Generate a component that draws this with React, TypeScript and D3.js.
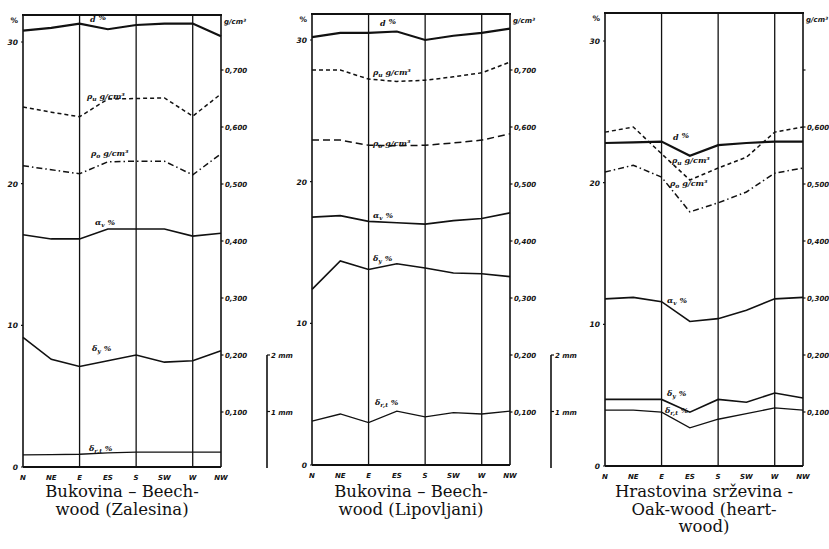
import React from "react";
import * as d3 from "d3";

const categories = ["N", "NE", "E", "ES", "S", "SW", "W", "NW"];
const gridCats = ["E", "S", "W"];
const leftTicks = [0, 10, 20, 30];
const rightTicks = [0.1, 0.2, 0.3, 0.4, 0.5, 0.6, 0.7];
const mmTicks = [1, 2];

// Panel 1: Zalesina
const zalD = [30.8, 31.0, 31.3, 30.9, 31.2, 31.3, 31.3, 30.4];
const zalRhoU = [0.635, 0.626, 0.618, 0.649, 0.65, 0.651, 0.619, 0.658];
const zalRho0 = [0.532, 0.525, 0.518, 0.539, 0.54, 0.54, 0.516, 0.553];
const zalAlpha = [16.4, 16.1, 16.1, 16.8, 16.8, 16.8, 16.3, 16.5];
const zalDy = [9.15, 7.6, 7.1, 7.5, 7.9, 7.4, 7.5, 8.2];
const zalDrt = [0.85, 0.88, 0.9, 1.0, 1.05, 1.05, 1.05, 1.05];

// Panel 2: Lipovljani
const lipD = [30.2, 30.5, 30.5, 30.6, 30.0, 30.3, 30.5, 30.8];
const lipRhoU = [0.7, 0.7, 0.684, 0.68, 0.682, 0.688, 0.695, 0.714];
const lipRho0 = [0.577, 0.577, 0.568, 0.567, 0.568, 0.572, 0.577, 0.588];
const lipAlpha = [17.5, 17.6, 17.2, 17.1, 17.0, 17.25, 17.4, 17.8];
const lipDy = [12.4, 14.4, 13.8, 14.2, 13.9, 13.55, 13.5, 13.3];
const lipDrt = [3.1, 3.6, 3.0, 3.8, 3.4, 3.7, 3.6, 3.8];

// Panel 3: Oak heartwood
const oakD = [22.8, 22.85, 22.9, 21.9, 22.65, 22.8, 22.9, 22.9];
const oakRhoU = [0.591, 0.6, 0.553, 0.507, 0.528, 0.547, 0.591, 0.6];
const oakRho0 = [0.521, 0.533, 0.512, 0.451, 0.467, 0.486, 0.519, 0.528];
const oakAlpha = [11.8, 11.9, 11.6, 10.2, 10.4, 11.0, 11.8, 11.9];
const oakDy = [4.7, 4.7, 4.7, 3.8, 4.7, 4.5, 5.15, 4.8];
const oakDrt = [3.95, 3.95, 3.8, 2.7, 3.3, 3.7, 4.1, 3.95];

const titles1 = ["Bukovina – Beech-", "wood (Zalesina)"];
const titles2 = ["Bukovina – Beech-", "wood (Lipovljani)"];
const titles3 = ["Hrastovina srževina -", "Oak-wood (heart-", "wood)"];

type Lbl = { sym: string; sub: string; unit: string; x: number; y: number };

type PanelCfg = {
  left: number;
  right: number;
  top: number;
  bottom: number;
  y30: number;
  d: number[];
  rhoU: number[];
  rho0: number[];
  alpha: number[];
  dy: number[];
  drt: number[];
  rho0Dash: string;
  labels: Lbl[];
  titles: string[];
  showTop: boolean;
};

const ink = "#111";

function Panel({ cfg }: { cfg: PanelCfg }) {
  const x = d3.scalePoint<string>().domain(categories).range([cfg.left, cfg.right]);
  const yL = d3.scaleLinear().domain([0, 30]).range([cfg.bottom, cfg.y30]);
  const yR = d3.scaleLinear().domain([0, 0.7]).range([469, 70]);
  const lineL = d3
    .line<number>()
    .x((_, i) => x(categories[i]) as number)
    .y((v) => yL(v));
  const lineR = d3
    .line<number>()
    .x((_, i) => x(categories[i]) as number)
    .y((v) => yR(v));
  const cx = (cfg.left + cfg.right) / 2;
  return (
    <g>
      {/* frame */}
      <line x1={cfg.left - 1} x2={cfg.right + 1} y1={cfg.top} y2={cfg.top} stroke={ink} strokeWidth={2.2} />
      <line x1={cfg.left} x2={cfg.left} y1={cfg.top} y2={cfg.bottom} stroke={ink} strokeWidth={1.6} />
      <line x1={cfg.right} x2={cfg.right} y1={cfg.top} y2={cfg.bottom} stroke={ink} strokeWidth={1.6} />
      <line x1={cfg.left} x2={cfg.right} y1={cfg.bottom} y2={cfg.bottom} stroke={ink} strokeWidth={1.8} />
      {gridCats.map((c) => (
        <line key={c} x1={x(c)} x2={x(c)} y1={cfg.top} y2={cfg.bottom} stroke={ink} strokeWidth={1.3} />
      ))}
      {/* left ticks */}
      {leftTicks.map((t) => (
        <g key={t}>
          <line x1={cfg.left - 2} x2={cfg.left} y1={yL(t)} y2={yL(t)} stroke={ink} strokeWidth={1.2} />
          <text x={cfg.left - 5} y={yL(t) + 3} textAnchor="end" fontSize={7.5} fontWeight="bold" fontStyle="italic" fontFamily="DejaVu Sans" fill={ink}>
            {t}
          </text>
        </g>
      ))}
      <text x={cfg.left - 5} y={cfg.top + 8} textAnchor="end" fontSize={7.5} fontWeight="bold" fontFamily="DejaVu Sans" fill={ink}>%</text>
      {/* right ticks */}
      {rightTicks.map((t) => (
        <g key={t}>
          <line x1={cfg.right} x2={cfg.right + 2.5} y1={yR(t)} y2={yR(t)} stroke={ink} strokeWidth={1.2} />
          {(cfg.showTop || t < 0.65) && (
            <text x={cfg.right + 4} y={yR(t) + 3} fontSize={7} fontWeight="bold" fontStyle="italic" fontFamily="DejaVu Sans" fill={ink}>
              {d3.format(".3f")(t).replace(".", ",")}
            </text>
          )}
        </g>
      ))}
      <text x={cfg.right + 3} y={cfg.top + 9} fontSize={7} fontWeight="bold" fontStyle="italic" fontFamily="DejaVu Sans" fill={ink}>
        {"g/cm³"}
      </text>
      {/* x tick labels */}
      {categories.map((c) => (
        <text key={c} x={x(c)} y={cfg.bottom + 13} textAnchor="middle" fontSize={7} fontWeight="bold" fontStyle="italic" fontFamily="DejaVu Sans" fill={ink}>
          {c}
        </text>
      ))}
      {/* series */}
      <path d={lineL(cfg.d) || ""} fill="none" stroke={ink} strokeWidth={2.2} />
      <path d={lineR(cfg.rhoU) || ""} fill="none" stroke={ink} strokeWidth={1.5} strokeDasharray="4 3" />
      <path d={lineR(cfg.rho0) || ""} fill="none" stroke={ink} strokeWidth={1.5} strokeDasharray={cfg.rho0Dash} />
      <path d={lineL(cfg.alpha) || ""} fill="none" stroke={ink} strokeWidth={1.6} />
      <path d={lineL(cfg.dy) || ""} fill="none" stroke={ink} strokeWidth={1.6} />
      <path d={lineL(cfg.drt) || ""} fill="none" stroke={ink} strokeWidth={1.3} />
      {cfg.labels.map((l, i) => (
        <text key={i} x={l.x} y={l.y} fontSize={8} fontWeight="bold" fontStyle="italic" fontFamily="DejaVu Serif" fill={ink}>
          {l.sym}
          <tspan fontSize={6} dy={2}>{l.sub}</tspan>
          <tspan dy={-2}>{" " + l.unit}</tspan>
        </text>
      ))}
      {cfg.titles.map((t, i) => (
        <text key={i} x={cx} y={497 + i * 17.5} textAnchor="middle" fontSize={16.5} fontFamily="DejaVu Serif" fill={ink}>
          {t}
        </text>
      ))}
    </g>
  );
}

function MmScale({ x }: { x: number }) {
  const y = d3.scaleLinear().domain([0, 2]).range([468, 355]);
  return (
    <g>
      <line x1={x} x2={x} y1={y(0)} y2={y(2)} stroke={ink} strokeWidth={1.6} />
      {mmTicks.map((t) => (
        <g key={t}>
          <line x1={x} x2={x + 3} y1={y(t)} y2={y(t)} stroke={ink} strokeWidth={1.2} />
          <text x={x + 4} y={y(t) + 3} fontSize={7} fontWeight="bold" fontStyle="italic" fontFamily="DejaVu Sans" fill={ink}>
            {t + " mm"}
          </text>
        </g>
      ))}
    </g>
  );
}

const panels: PanelCfg[] = [
  {
    left: 23, right: 221, top: 15, bottom: 467, y30: 42,
    d: zalD, rhoU: zalRhoU, rho0: zalRho0, alpha: zalAlpha, dy: zalDy, drt: zalDrt,
    rho0Dash: "6 3 1.5 3",
    labels: [
      { sym: "d", sub: "", unit: "%", x: 90, y: 22 },
      { sym: "ρ", sub: "u", unit: "g/cm³", x: 87, y: 99 },
      { sym: "ρ", sub: "o", unit: "g/cm³", x: 91, y: 156 },
      { sym: "α", sub: "v", unit: "%", x: 95, y: 225 },
      { sym: "δ", sub: "y", unit: "%", x: 92, y: 351 },
      { sym: "δ", sub: "r,t", unit: "%", x: 89, y: 451 },
    ],
    titles: titles1,
    showTop: true,
  },
  {
    left: 312, right: 510, top: 14, bottom: 465, y30: 40,
    d: lipD, rhoU: lipRhoU, rho0: lipRho0, alpha: lipAlpha, dy: lipDy, drt: lipDrt,
    rho0Dash: "7 4",
    labels: [
      { sym: "d", sub: "", unit: "%", x: 380, y: 26 },
      { sym: "ρ", sub: "u", unit: "g/cm³", x: 373, y: 75 },
      { sym: "ρ", sub: "o", unit: "g/cm³", x: 373, y: 146 },
      { sym: "α", sub: "v", unit: "%", x: 373, y: 218 },
      { sym: "δ", sub: "y", unit: "%", x: 373, y: 261 },
      { sym: "δ", sub: "r,t", unit: "%", x: 375, y: 405 },
    ],
    titles: titles2,
    showTop: true,
  },
  {
    left: 605, right: 803, top: 13, bottom: 466, y30: 41,
    d: oakD, rhoU: oakRhoU, rho0: oakRho0, alpha: oakAlpha, dy: oakDy, drt: oakDrt,
    rho0Dash: "6 3 1.5 3",
    labels: [
      { sym: "d", sub: "", unit: "%", x: 673, y: 140 },
      { sym: "ρ", sub: "u", unit: "g/cm³", x: 672, y: 163 },
      { sym: "ρ", sub: "o", unit: "g/cm³", x: 670, y: 186 },
      { sym: "α", sub: "v", unit: "%", x: 667, y: 303 },
      { sym: "δ", sub: "y", unit: "%", x: 667, y: 396 },
      { sym: "δ", sub: "r,t", unit: "%", x: 665, y: 413 },
    ],
    titles: titles3,
    showTop: false,
  },
];

export default function App() {
  return (
    <svg width={829} height={549} style={{ position: "absolute", left: 0, top: 0, background: "#fff" }}>
      <rect width={829} height={549} fill="#fff" />
      {panels.map((p, i) => (
        <Panel key={i} cfg={p} />
      ))}
      <MmScale x={267} />
      <MmScale x={551} />
    </svg>
  );
}
